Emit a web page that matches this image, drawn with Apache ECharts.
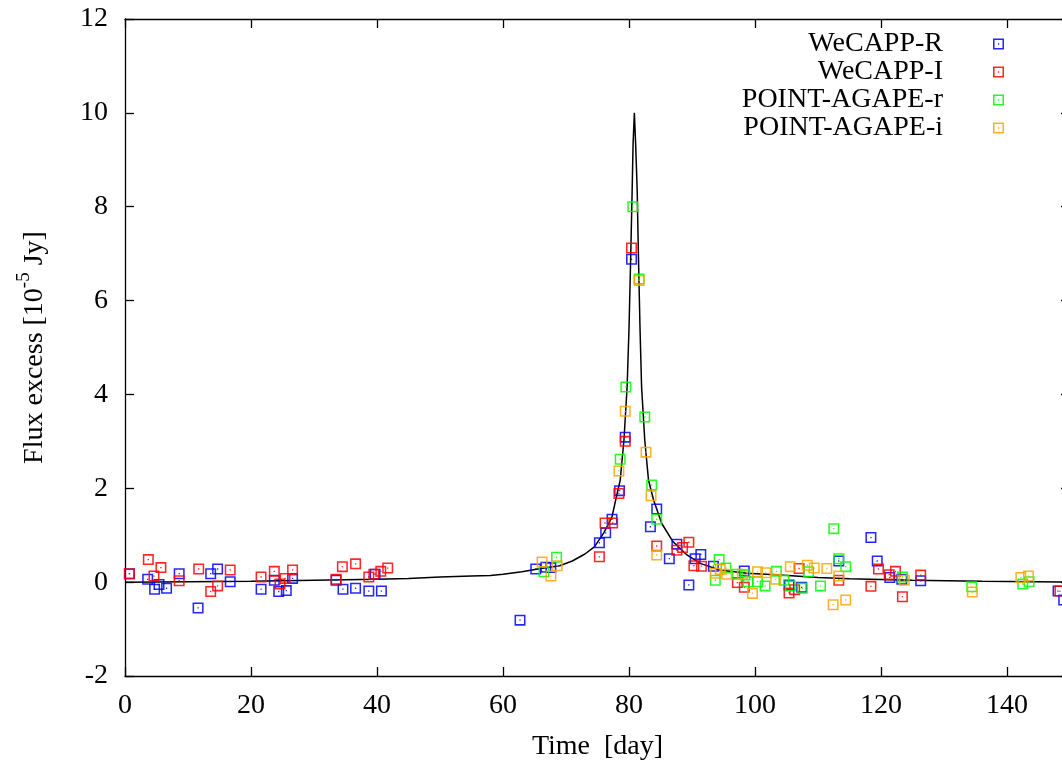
<!DOCTYPE html>
<html>
<head>
<meta charset="utf-8">
<script src="https://cdn.jsdelivr.net/npm/echarts@6/dist/echarts.min.js"></script>
<style>html,body{margin:0;padding:0;background:#fff;}#c{width:1062px;height:761px;}</style>
</head>
<body>
<div id="c"></div>
<script>
const seriesNames = ['WeCAPP-R', 'WeCAPP-I', 'POINT-AGAPE-r', 'POINT-AGAPE-i'];
const xTicks = [0, 20, 40, 60, 80, 100, 120, 140];
const yTicks = [-2, 0, 2, 4, 6, 8, 10, 12];

const wecappR = [[0.7,0.18],[3.6,0.06],[4.7,-0.15],[5.4,-0.05],[6.6,-0.13],[8.6,0.18],[11.6,-0.55],[13.6,0.18],[14.7,0.28],[16.7,0.01],[21.6,-0.15],[23.7,0.04],[24.4,-0.2],[25.6,-0.18],[26.6,0.08],[33.5,0.04],[34.6,-0.15],[36.6,-0.13],[38.7,-0.19],[39.7,0.17],[40.7,-0.19],
[62.7,-0.81],[65.2,0.28],[66.8,0.32],[67.6,0.31],[75.3,0.84],[76.3,1.05],[77.3,1.34],[78.5,1.95],[79.4,3.09],[80.4,6.88],[83.4,1.18],[84.4,1.56],[86.4,0.5],[87.6,0.81],[89.5,-0.06],[90.5,0.5],[91.4,0.59],[93.4,0.34],[98.3,0.24],[105.4,-0.06],[107.4,-0.11],[113.3,0.45],[118.4,0.95],[119.4,0.45],[121.4,0.1],[123.3,0.06],[126.3,0.03],[148.1,-0.19],[149.0,-0.38]];

const wecappI = [[0.7,0.18],[3.7,0.48],[4.6,0.13],[5.7,0.31],[8.6,0.03],[11.7,0.28],[13.6,-0.2],[14.7,-0.08],[16.7,0.26],[21.6,0.11],[23.7,0.23],[24.6,-0.04],[25.4,0.08],[26.6,0.26],[33.5,0.06],[34.5,0.33],[36.6,0.39],[38.7,0.11],[39.5,0.17],[40.6,0.23],[41.7,0.3],
[75.3,0.54],[76.2,1.26],[77.4,1.26],[78.4,1.89],[79.4,3.0],[80.4,7.12],[84.4,0.77],[87.6,0.68],[88.5,0.74],[89.5,0.85],[90.3,0.35],[91.5,0.34],[97.2,-0.01],[98.3,-0.11],[105.4,-0.23],[106.3,-0.16],[107.0,0.29],[113.3,0.04],[118.4,-0.09],[119.6,0.28],[121.3,0.16],[122.3,0.23],[123.4,-0.31],[126.3,0.15],[148.4,-0.19]];

const agapeR = [[66.5,0.22],[68.5,0.53],[78.6,2.62],[79.5,4.16],[80.6,8.0],[81.6,6.46],[82.5,3.52],[83.6,2.07],[84.4,1.34],[93.7,0.04],[94.3,0.48],[95.4,0.3],[97.2,0.17],[98.4,0.15],[98.9,0.01],[100.4,0.01],[101.6,-0.08],[103.4,0.23],[104.6,0.04],[105.6,-0.08],[107.5,-0.13],[108.5,0.22],[110.4,-0.08],[112.5,1.14],[113.3,0.5],[114.4,0.33],[123.4,0.11],[134.4,-0.1],[142.5,-0.04],[143.5,0.01]];

const agapeI = [[66.2,0.43],[67.6,0.13],[68.6,0.35],[78.4,2.37],[79.4,3.64],[81.6,6.43],[82.7,2.77],[83.5,1.84],[84.4,0.58],[93.7,0.19],[94.5,0.27],[95.5,0.17],[98.0,0.17],[99.6,-0.24],[100.4,0.22],[101.7,0.2],[103.3,0.06],[105.6,0.33],[108.3,0.36],[109.4,0.3],[111.4,0.29],[112.4,-0.48],[113.3,0.13],[114.4,-0.38],[123.7,0.04],[134.5,-0.21],[142.2,0.1],[143.4,0.13]];

const modelCurve = [[0,0.0],[10,0.01],[20,0.02],[30,0.04],[40,0.06],[45,0.08],[50,0.11],[55,0.13],[58,0.14],[60,0.17],[63,0.22],[66,0.29],[69,0.35],[71,0.45],[73,0.6],[74.5,0.75],[76,1.05],[77.3,1.39],[78,1.82],[78.6,2.17],[79.2,3.03],[79.7,4.16],[80.0,5.4],[80.27,6.93],[80.5,8.35],[80.65,9.35],[80.85,10.0],[81.05,9.35],[81.3,8.35],[81.5,6.93],[81.75,5.4],[82.0,4.16],[82.5,3.03],[83.1,2.17],[83.9,1.75],[85.2,1.25],[87,0.86],[89.2,0.58],[91.3,0.4],[94.4,0.26],[98.7,0.19],[104,0.15],[110,0.1],[115,0.07],[125,0.04],[136,0.02],[150,0.0]];

const colors = ['#0000ff', '#ff0000', '#00ff00', '#ffa500'];
const sq = 'path://M0,0H10V10H0Z M1.4,1.4V8.6H8.6V1.4Z M4.4,4.4H5.6V5.6H4.4Z';
const FONT = 'Liberation Serif';
const FS = 28;

const chart = echarts.init(document.getElementById('c'), null, {renderer: 'canvas'});
const axisLineStyle = {color: '#000', width: 1.3};
const tickStyle = {show: true, inside: true, length: 9, lineStyle: {color: '#000', width: 1.3}};

const scatterData = [wecappR, wecappI, agapeR, agapeI];
const series = [{
  type: 'line', data: modelCurve, showSymbol: false, symbol: 'none',
  lineStyle: {color: '#000', width: 1.5}, z: 1, silent: true, legendHoverLink: false
}];
seriesNames.forEach((n, i) => {
  series.push({
    name: n, type: 'scatter', data: scatterData[i], symbol: sq, symbolSize: 11,
    itemStyle: {color: colors[i], opacity: 0.85}, z: 2 + i
  });
});

chart.setOption({
  animation: false,
  backgroundColor: '#fff',
  textStyle: {fontFamily: FONT, color: '#000'},
  grid: {left: 125, top: 19, bottom: 85, right: -8, containLabel: false, outerBoundsMode: 'none'},
  legend: {
    orient: 'vertical', right: 53, top: 25, align: 'right', itemGap: 0,
    itemWidth: 11, itemHeight: 11,
    data: seriesNames.map((n, i) => ({name: n, icon: sq, itemStyle: {color: colors[i]}})),
    textStyle: {fontFamily: FONT, fontSize: FS, color: '#000', lineHeight: 28, padding: [0, 45, 0, 0]}
  },
  xAxis: [{
    type: 'value', min: 0, max: 150, interval: 20, position: 'bottom',
    name: 'Time  [day]', nameLocation: 'middle', nameGap: 57,
    nameTextStyle: {fontFamily: FONT, fontSize: FS, color: '#000'},
    axisLine: {show: true, onZero: false, lineStyle: axisLineStyle},
    axisTick: tickStyle, splitLine: {show: false},
    axisLabel: {fontFamily: FONT, fontSize: FS, color: '#000', margin: 16,
      formatter: v => (xTicks.indexOf(v) >= 0 ? String(v) : '')}
  }, {
    type: 'value', min: 0, max: 150, interval: 20, position: 'top',
    axisLine: {show: true, onZero: false, lineStyle: axisLineStyle},
    axisTick: tickStyle, splitLine: {show: false}, axisLabel: {show: false}
  }],
  yAxis: [{
    type: 'value', min: -2, max: 12, interval: 2, position: 'left',
    name: '{a|Flux excess [10}{s|-5}{a| Jy]}', nameLocation: 'middle', nameGap: 76,
    nameTextStyle: {fontFamily: FONT, fontSize: FS, color: '#000',
      rich: {a: {fontFamily: FONT, fontSize: FS, color: '#000', verticalAlign: 'bottom', lineHeight: 34},
             s: {fontFamily: FONT, fontSize: 19, color: '#000', verticalAlign: 'top', lineHeight: 34}}},
    axisLine: {show: true, onZero: false, lineStyle: axisLineStyle},
    axisTick: tickStyle, splitLine: {show: false},
    axisLabel: {fontFamily: FONT, fontSize: FS, color: '#000', margin: 17,
      formatter: v => (yTicks.indexOf(v) >= 0 ? String(v) : '')}
  }, {
    type: 'value', min: -2, max: 12, interval: 2, position: 'right',
    axisLine: {show: true, onZero: false, lineStyle: axisLineStyle},
    axisTick: tickStyle, splitLine: {show: false}, axisLabel: {show: false}
  }],
  series: series
});
</script>
</body>
</html>
